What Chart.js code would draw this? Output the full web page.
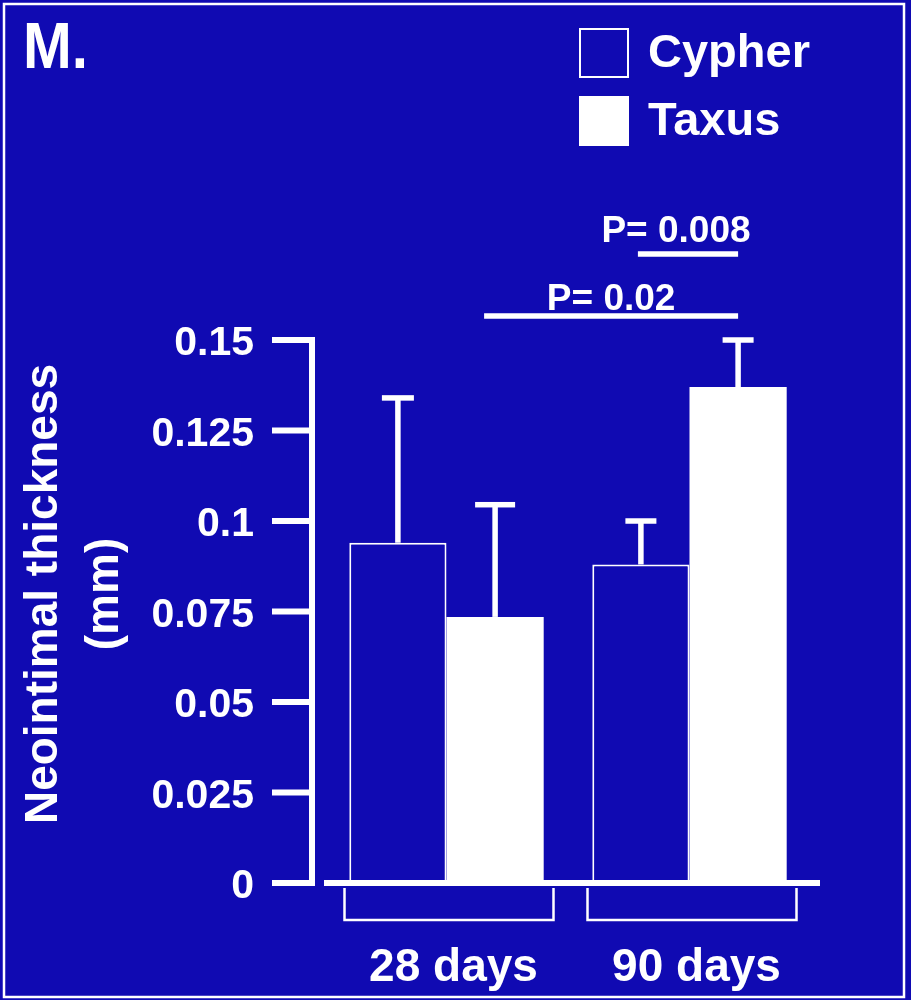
<!DOCTYPE html>
<html>
<head>
<meta charset="utf-8">
<title>Neointimal thickness: Cypher vs Taxus</title>
<script src="https://cdn.jsdelivr.net/npm/chart.js@4/dist/chart.umd.min.js"></script>
<style>
  html, body { margin: 0; padding: 0; background: rgb(16,10,178); }
  #wrap { width: 911px; height: 1000px; position: relative; }
</style>
</head>
<body>
<div id="wrap"><canvas id="chart"></canvas></div>
<script>
// ---- data ----
const categories = ['28 days', '90 days'];
const seriesNames = ['Cypher', 'Taxus'];
const cypherMean = [0.094, 0.088];
const cypherSD = [0.040, 0.012];
const taxusMean = [0.0735, 0.137];
const taxusSD = [0.031, 0.013];
const yTickValues = [0, 0.025, 0.05, 0.075, 0.1, 0.125, 0.15];
const yTickLabels = ['0', '0.025', '0.05', '0.075', '0.1', '0.125', '0.15'];
const yTitleLines = ['Neointimal thickness', '(mm)'];
const panelLabel = 'M.';
// significance brackets: [datasetIndex, categoryIndex] pairs
const pValueLabels = ['P= 0.02', 'P= 0.008'];
const pValuePairs = [[[1, 0], [1, 1]], [[0, 1], [1, 1]]];

// ---- styling ----
const BG = 'rgb(16,10,178)';
const FG = '#ffffff';
const FONT = '"Liberation Sans", Arial, Helvetica, sans-serif';

const decor = {
  id: 'decor',
  beforeDraw(chart) {
    const { ctx, width, height } = chart;
    ctx.save();
    ctx.fillStyle = BG;
    ctx.fillRect(0, 0, width, height);
    // white frame
    ctx.strokeStyle = FG;
    ctx.lineWidth = 2.5;
    ctx.strokeRect(4, 4, 900, 993);
    ctx.restore();
  },
  afterDatasetsDraw(chart) {
    const ctx = chart.ctx;
    const ys = chart.scales.y;
    const xs = chart.scales.x;
    const ca = chart.chartArea;
    const lw = 5.5;
    ctx.save();
    ctx.fillStyle = FG;
    ctx.strokeStyle = FG;

    // error bars (upper half only)
    const capWidths = [[32, 31], [40, 31]];
    chart.data.datasets.forEach((ds, i) => {
      const meta = chart.getDatasetMeta(i);
      meta.data.forEach((bar, j) => {
        const top = ys.getPixelForValue(ds.data[j] + ds.sd[j]);
        ctx.fillRect(bar.x - lw / 2, top, lw, bar.y - top);
        const cw = capWidths[i][j];
        ctx.fillRect(bar.x - cw / 2, top - lw / 2, cw, lw);
      });
    });

    // y axis line and tick marks
    const y0 = ys.getPixelForValue(ys.min);
    const yTop = ys.getPixelForValue(ys.max);
    const axX = ca.left - 13;
    ctx.fillRect(axX - 3, yTop - 3, 6, y0 - yTop + 6);
    ys.ticks.forEach(t => {
      const p = ys.getPixelForValue(t.value);
      ctx.fillRect(axX - 40, p - 3, 40, 6);
    });

    // x axis baseline
    ctx.fillRect(ca.left - 1, y0 - 3, ca.right + 9 - (ca.left - 1), 6);

    // group brackets under the axis
    ctx.lineWidth = 2.5;
    categories.forEach((c, i) => {
      const cx = xs.getPixelForValue(i);
      ctx.beginPath();
      ctx.moveTo(cx - 102, y0 + 5);
      ctx.lineTo(cx - 102, y0 + 37);
      ctx.lineTo(cx + 107, y0 + 37);
      ctx.lineTo(cx + 107, y0 + 5);
      ctx.stroke();
    });

    // significance lines
    const pStyle = [
      { lineUp: 24, startDx: -11, textUp: 30, textDx: 0 },
      { lineUp: 86, startDx: -3, textUp: 98, textDx: -12 }
    ];
    ctx.font = 'bold 37px ' + FONT;
    ctx.textAlign = 'center';
    ctx.textBaseline = 'alphabetic';
    pValuePairs.forEach((pair, k) => {
      const a = chart.getDatasetMeta(pair[0][0]).data[pair[0][1]];
      const b = chart.getDatasetMeta(pair[1][0]).data[pair[1][1]];
      const s = pStyle[k];
      const x1 = a.x + s.startDx, x2 = b.x;
      const ly = ca.top - s.lineUp;
      ctx.fillRect(x1, ly - lw / 2, x2 - x1, lw);
      ctx.fillText(pValueLabels[k], (x1 + x2) / 2 + s.textDx, ca.top - s.textUp);
    });

    // legend
    ctx.textAlign = 'left';
    ctx.font = 'bold 47px ' + FONT;
    chart.data.datasets.forEach((ds, i) => {
      const bx = 580, by = 29 + i * 68;
      ctx.fillStyle = ds.backgroundColor;
      ctx.fillRect(bx, by, 48, 48);
      ctx.strokeStyle = FG;
      ctx.lineWidth = 2;
      ctx.strokeRect(bx, by, 48, 48);
      ctx.fillStyle = FG;
      ctx.fillText(ds.label, 648, 67 + i * 68);
    });

    // panel label
    ctx.save();
    ctx.font = 'bold 64px ' + FONT;
    ctx.translate(23, 68);
    ctx.scale(0.915, 1);
    ctx.fillText(panelLabel, 0, 0);
    ctx.restore();

    // y axis title, rotated
    ctx.save();
    ctx.font = 'bold 46px ' + FONT;
    ctx.textAlign = 'center';
    ctx.textBaseline = 'middle';
    ctx.translate(0, 594);
    ctx.rotate(-Math.PI / 2);
    yTitleLines.forEach((line, i) => {
      ctx.fillText(line, 0, 44 + i * 61);
    });
    ctx.restore();

    ctx.restore();
  }
};

new Chart(document.getElementById('chart'), {
  type: 'bar',
  data: {
    labels: categories,
    datasets: [
      {
        label: seriesNames[0],
        data: cypherMean,
        sd: cypherSD,
        backgroundColor: BG,
        borderColor: FG,
        borderWidth: 2,
        borderSkipped: 'start'
      },
      {
        label: seriesNames[1],
        data: taxusMean,
        sd: taxusSD,
        backgroundColor: FG,
        borderColor: FG,
        borderWidth: 0
      }
    ]
  },
  options: {
    responsive: true,
    maintainAspectRatio: false,
    animation: false,
    events: [],
    layout: { padding: { top: 340, right: 100, bottom: 0, left: 0 } },
    datasets: { bar: { categoryPercentage: 0.8, barPercentage: 1.0 } },
    plugins: { legend: { display: false }, tooltip: { enabled: false } },
    scales: {
      x: {
        grid: { display: false, drawTicks: false },
        border: { display: false },
        ticks: {
          color: FG,
          font: { family: FONT, weight: 'bold', size: 46 },
          padding: 58,
          labelOffset: 7,
          maxRotation: 0
        },
        afterFit(scale) { scale.height = 117; }
      },
      y: {
        min: 0,
        max: 0.15,
        grid: { display: false, drawTicks: false },
        border: { display: false },
        afterBuildTicks(scale) { scale.ticks = yTickValues.map(v => ({ value: v })); },
        ticks: {
          color: FG,
          font: { family: FONT, weight: 'bold', size: 41 },
          padding: 71,
          labelOffset: 4,
          callback(value, index) { return yTickLabels[index]; }
        },
        afterFit(scale) { scale.width = 325; }
      }
    }
  },
  plugins: [decor]
});
</script>
</body>
</html>
